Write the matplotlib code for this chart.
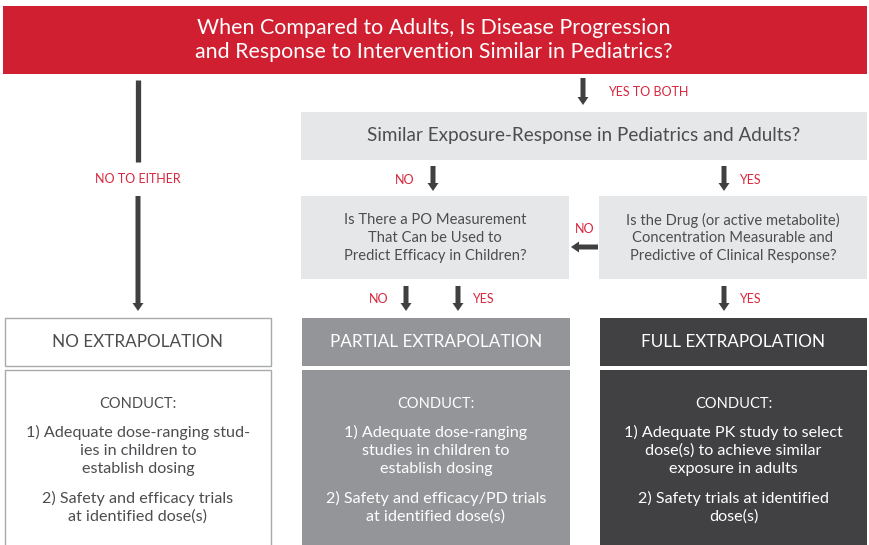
import matplotlib
matplotlib.use("Agg")
import matplotlib.pyplot as plt
from matplotlib.patches import Rectangle, FancyArrow

plt.rcParams['font.family'] = ['Lato', 'DejaVu Sans']

RED = "#d01f31"
LIGHT = "#e6e7e8"
MID = "#939598"
DARK = "#414042"
ARROW = "#404040"
TEXT = "#4d4d4f"
LABEL = "#d7263d"

title_lines = ["When Compared to Adults, Is Disease Progression",
               "and Response to Intervention Similar in Pediatrics?"]
q_exposure = "Similar Exposure-Response in Pediatrics and Adults?"
q_po = ["Is There a PO Measurement", "That Can be Used to",
        "Predict Efficacy in Children?"]
q_drug = ["Is the Drug (or active metabolite)", "Concentration Measurable and",
          "Predictive of Clinical Response?"]
outcomes = ["NO EXTRAPOLATION", "PARTIAL EXTRAPOLATION", "FULL EXTRAPOLATION"]
conduct_item1 = [["1) Adequate dose-ranging stud-", "ies in children to", "establish dosing"],
                 ["1) Adequate dose-ranging", "studies in children to", "establish dosing"],
                 ["1) Adequate PK study to select", "dose(s) to achieve similar", "exposure in adults"]]
conduct_item2 = [["2) Safety and efficacy trials", "at identified dose(s)"],
                 ["2) Safety and efficacy/PD trials", "at identified dose(s)"],
                 ["2) Safety trials at identified", "dose(s)"]]
branch_labels = ["YES TO BOTH", "NO TO EITHER", "NO", "YES", "NO", "NO", "YES", "YES"]

fig = plt.figure(figsize=(8.69, 5.45), dpi=100)
ax = fig.add_axes([0, 0, 1, 1])
ax.set_xlim(0, 869)
ax.set_ylim(545, 0)
ax.axis("off")


def box(x0, y0, x1, y1, fc, ec=None):
    ax.add_patch(Rectangle((x0, y0), x1 - x0, y1 - y0, facecolor=fc,
                           edgecolor=ec if ec else "none", lw=1.0))


def lines(cx, ys, texts, size, color):
    for y, t in zip(ys, texts):
        ax.text(cx, y, t, ha="center", va="center", fontsize=size, color=color)


def arrow_down(x, y0, y1):
    ax.add_patch(FancyArrow(x, y0, 0, y1 - y0, width=5, head_width=11,
                            head_length=8, length_includes_head=True,
                            color=ARROW, lw=0))


def label(x, y, t, ha="left"):
    ax.text(x, y, t, ha=ha, va="center", fontsize=9, color=LABEL)


# top question
box(3, 6, 867, 74, RED)
lines(434, [28, 52], title_lines, 15.4, "white")

# left branch: no to either
ax.plot([138, 138], [80, 162], color=ARROW, lw=3.8, solid_capstyle="butt")
label(138, 179, branch_labels[1], ha="center")
arrow_down(138, 196, 311)

# yes to both
arrow_down(583, 78, 105)
label(608, 92, branch_labels[0])

box(301, 112, 867, 160, LIGHT)
ax.text(584, 136, q_exposure, ha="center", va="center", fontsize=13.6, color=TEXT)

arrow_down(433, 166, 191)
label(414, 180, branch_labels[2], ha="right")
arrow_down(724, 166, 191)
label(739, 180, branch_labels[3])

box(301, 196, 569, 279, LIGHT)
lines(435, [220, 238, 256], q_po, 10.6, TEXT)
box(599, 196, 867, 279, LIGHT)
lines(733, [220, 238, 256], q_drug, 10.6, TEXT)

ax.add_patch(FancyArrow(598, 247, -27, 0, width=5, head_width=11,
                        head_length=8, length_includes_head=True,
                        color=ARROW, lw=0))
label(585, 229, branch_labels[4], ha="center")

arrow_down(406, 286, 311)
label(388, 299, branch_labels[5], ha="right")
arrow_down(458, 286, 311)
label(472, 299, branch_labels[6])
arrow_down(724, 286, 311)
label(739, 299, branch_labels[7])

# outcomes
cols = [(5, 271, "white", "#a7a9ac", TEXT),
        (302, 570, MID, None, "white"),
        (600, 867, DARK, None, "white")]
for (x0, x1, fc, ec, tc), name, it1, it2 in zip(cols, outcomes, conduct_item1, conduct_item2):
    cx = (x0 + x1) / 2
    box(x0, 318, x1, 366, fc, ec)
    ax.text(cx, 342, name, ha="center", va="center", fontsize=12.3, color=tc)
    box(x0, 370, x1, 548, fc, ec)
    ax.text(cx, 404, "CONDUCT:", ha="center", va="center", fontsize=10.5, color=tc)
    lines(cx, [432, 451, 469], it1, 11.6, tc)
    lines(cx, [498, 517], it2, 11.6, tc)

fig.savefig("out.png", dpi=100)
